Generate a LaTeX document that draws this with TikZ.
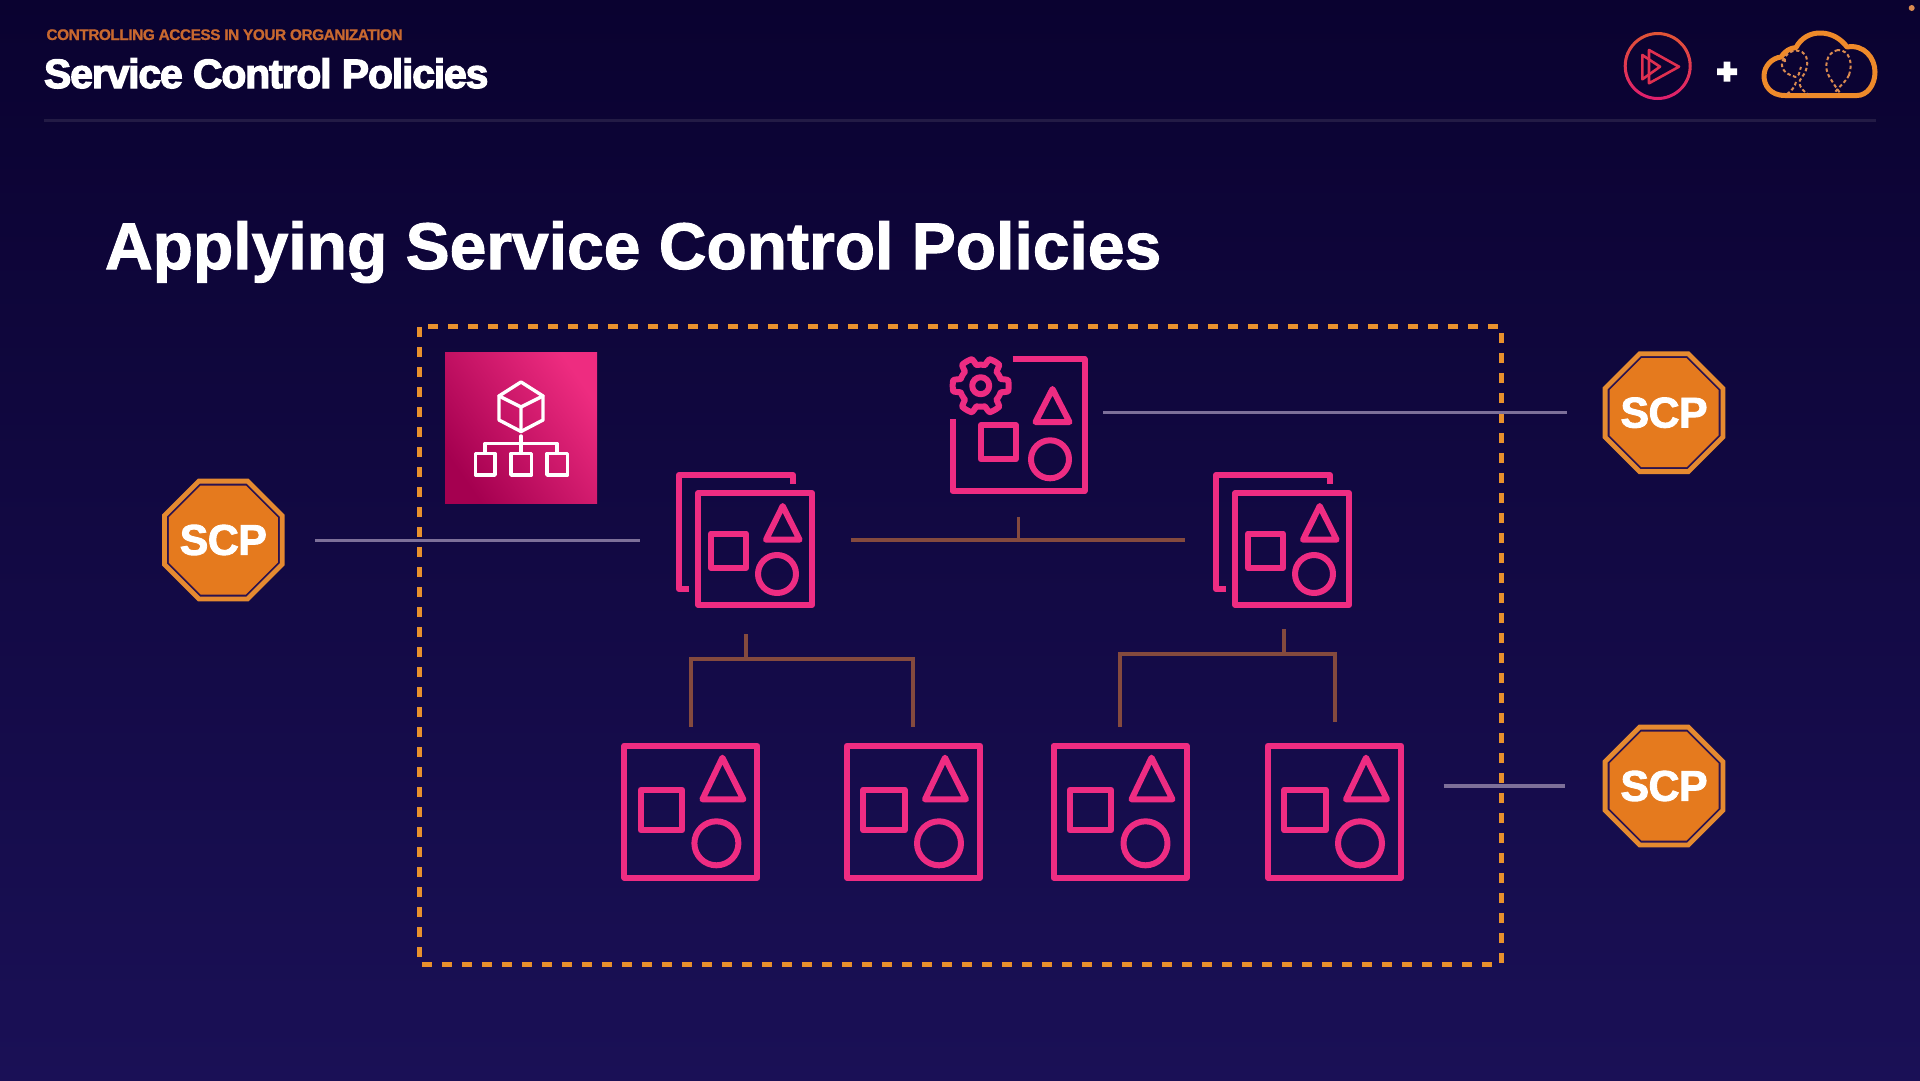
\documentclass[tikz,border=0pt]{standalone}
\usepackage{fontspec}
\setmainfont{Liberation Sans}
\newfontfamily\tightfont{Liberation Sans}[LetterSpace=-2.9,BoldFeatures={FakeBold=3}]
\newfontfamily\kickerfont{Liberation Sans}[LetterSpace=-3,BoldFeatures={FakeBold=1}]
\newfontfamily\headfont{Liberation Sans}[BoldFeatures={FakeBold=1.5}]
\newfontfamily\scpfont{Liberation Sans}[LetterSpace=-1.5,BoldFeatures={FakeBold=2}]
\usetikzlibrary{shapes.geometric}
\definecolor{bgtop}{HTML}{0A0230}
\definecolor{bgmid}{HTML}{130A42}
\definecolor{bgbot}{HTML}{1A1056}
\definecolor{pinkicon}{HTML}{EE2C82}
\definecolor{dashorange}{HTML}{E8912D}
\definecolor{greyline}{HTML}{7D7099}
\definecolor{brownline}{HTML}{844A3E}
\definecolor{scpfillc}{HTML}{E57A1E}
\definecolor{scpring}{HTML}{E58A30}
\definecolor{kicker}{HTML}{C8682F}
\definecolor{cloudc}{HTML}{EE8A2A}
\definecolor{balloon}{HTML}{D98A50}
\definecolor{darkgap}{HTML}{2A1250}
\tikzset{
  x=1pt,y=-1pt,
  iconline/.style={draw=pinkicon,line width=6pt,line join=round,fill=none},
  whiteline/.style={draw=white,line width=3.4pt,line join=round,line cap=round},
  greyconn/.style={draw=greyline,line width=3.2pt},
  brownconn/.style={draw=brownline,line width=3.8pt},
  scpouter/.style={regular polygon,regular polygon sides=8,minimum size=127.5pt,inner sep=0pt,outer sep=0pt,draw=scpring,line width=4.8pt,fill=darkgap},
  scpinner/.style={regular polygon,regular polygon sides=8,minimum size=118pt,inner sep=0pt,outer sep=0pt,fill=scpfillc},
  scplabel/.style={text=white,inner sep=0pt,outer sep=0pt,font=\scpfont\fontsize{43}{43}\selectfont\bfseries},
  flat/.style={anchor=base west,inner sep=0pt,outer sep=0pt},
  leaficon/.pic={
    \draw[iconline] (3,3) rectangle (136,135);
    \draw[iconline] (19.4,47) rectangle (60.6,87.6);
    \draw[iconline] (101,15) -- (81,56.6) -- (122,56.6) -- cycle;
    \draw[iconline] (95,100.6) circle [radius=22pt];
  },
  stackicon/.pic={
    \draw[iconline] (13,117) -- (3,117) -- (3,3) -- (117,3) -- (117,12);
    \draw[iconline] (22.4,21) rectangle (136,133);
    \draw[iconline] (35,61.5) rectangle (70,96);
    \draw[iconline] (106.7,34) -- (90,67.7) -- (123.6,67.7) -- cycle;
    \draw[iconline] (101,102) circle [radius=19pt];
  },
  mgmticon/.pic={
    \draw[iconline] (63,3) -- (135,3) -- (135,135) -- (3,135) -- (3,63);
    \draw[iconline] (31.5,69) rectangle (66.2,103.3);
    \draw[iconline] (103,33) -- (86,66) -- (120,66) -- cycle;
    \draw[iconline] (100.5,103.3) circle [radius=19pt];
    \draw[iconline] (31.2,29.7) circle [radius=8.5pt];
    \draw[iconline] plot[domain=0:360,samples=181,variable=\t]
      ({31.2+(24.5+3.5*max(-1,min(1,3*cos(6*\t))))*cos(\t)},{29.7+(24.5+3.5*max(-1,min(1,3*cos(6*\t))))*sin(\t)}) -- cycle;
  },
}
\begin{document}
\begin{tikzpicture}
\useasboundingbox (0,0) rectangle (1920,1080);
% background
\shade[top color=bgtop,middle color=bgmid,bottom color=bgbot] (0,0) rectangle (1920,1080);
% header
\node[flat,text=kicker,font=\kickerfont\fontsize{15.4}{16}\selectfont\bfseries] (kickertext) at (46.5,40) {CONTROLLING ACCESS IN YOUR ORGANIZATION};
\node[flat,text=white,font=\tightfont\fontsize{41}{42}\selectfont\bfseries] (headertitle) at (44,88) {Service Control Policies};
\coordinate (ruleL) at (44,120.5);
\coordinate (ruleR) at (1876,120.5);
\draw[draw=white!10!bgtop,line width=3pt] (ruleL) -- (ruleR);
\fill[balloon] (1911.7,8) circle [radius=3pt];
% Pluralsight logo
\foreach \a in {0,6,...,354}{
  \pgfmathtruncatemacro{\gv}{32+26*(sin(\a+3)+1)}
  \pgfmathtruncatemacro{\bv}{110-28*(sin(\a+3)+1)}
  \definecolor{ringc}{RGB}{224,\gv,\bv}
  \draw[draw=ringc,line width=3pt,line cap=round]
    ({1657.7+32.5*cos(\a)},{66-32.5*sin(\a)}) -- ({1657.7+32.5*cos(\a+6)},{66-32.5*sin(\a+6)});
}
\draw[draw={rgb,255:red,224;green,48;blue,80},line width=2.6pt,line join=round] (1649,50) -- (1679,66.7) -- (1649,83.3) -- cycle;
\draw[draw={rgb,255:red,224;green,48;blue,80},line width=2.6pt,line join=round] (1642.3,55) -- (1660,66.7) -- (1642.3,79.3) -- cycle;
% plus
\fill[white] (1717,68.4) rectangle (1737,75) (1723.7,61.7) rectangle (1730.3,81.7);
% cloud
\draw[draw=cloudc,line width=5pt,line join=round]
  (1785,95.5) .. controls (1770,95.5) and (1764,85) .. (1764,76)
  .. controls (1764,66) and (1772,58) .. (1781,57)
  .. controls (1785,51) and (1790,48) .. (1796,47.5)
  .. controls (1801,38) and (1810,33) .. (1820,33)
  .. controls (1832,33) and (1841,39) .. (1847,47)
  .. controls (1864,44) and (1875,58) .. (1875,72)
  .. controls (1875,85) and (1867,95.5) .. (1857,95.5) -- cycle;
\draw[draw=balloon,line width=2pt,dash pattern=on 3.5pt off 2.5pt]
  (1785,62) .. controls (1783,53) and (1795,48) .. (1802,52)
  .. controls (1810,57) and (1808,70) .. (1802,77)
  .. controls (1798,81) and (1798,88) .. (1809,95);
\draw[draw=balloon,line width=2pt,dash pattern=on 3.5pt off 2.5pt]
  (1784,58) .. controls (1778,68) and (1786,74) .. (1793,76)
  .. controls (1800,80) and (1799,70) .. (1801,67)
  (1796,82) .. controls (1795,86) and (1792,91) .. (1787,94);
\draw[draw=balloon,line width=2pt,dash pattern=on 3.5pt off 2.5pt]
  (1838,50) .. controls (1826,52) and (1823,68) .. (1830,78)
  .. controls (1834,84) and (1836,88) .. (1841,94)
  (1849,75) .. controls (1846,82) and (1838,87) .. (1834,94)
  (1849,75) .. controls (1853,64) and (1850,50) .. (1838,50);
% main heading
\node[flat,text=white,font=\headfont\fontsize{66}{67}\selectfont\bfseries] (mainheading) at (105,269) {Applying Service Control Policies};
% organisation boundary
\coordinate (orgTL) at (419.3,326.5);
\coordinate (orgBR) at (1501,964);
\draw[draw=dashorange,line width=5pt,dash pattern=on 10pt off 10pt] (orgTL) rectangle (orgBR);
% organisations icon
\node[minimum width=152.2pt,minimum height=151.7pt,inner sep=0pt,outer sep=0pt,anchor=north west,shade,left color={rgb,255:red,165;green,0;blue,80},right color={rgb,255:red,238;green,44;blue,128},shading angle=125] (orgicon) at (445,352) {};
\draw[whiteline] (521,382) -- (543,396) -- (543,420) -- (521,431.5) -- (499,420) -- (499,396) -- cycle;
\draw[whiteline] (499,396) -- (521,407) -- (543,396) (521,407) -- (521,431.5);
\draw[whiteline] (521,436) -- (521,453) (485,453) -- (485,443.5) -- (557,443.5) -- (557,453);
\draw[whiteline] (475.5,453.5) rectangle (495,475);
\draw[whiteline] (511,453.5) rectangle (531.5,475);
\draw[whiteline] (547,453.5) rectangle (567.5,475);
% accounts
\pic (mgmt) at (949.5,356) {mgmticon};
\pic (stackL) at (676,472) {stackicon};
\pic (stackR) at (1213,472) {stackicon};
\pic (leafA) at (621.4,742.7) {leaficon};
\pic (leafB) at (844,742.7) {leaficon};
\pic (leafC) at (1050.5,742.7) {leaficon};
\pic (leafD) at (1265,742.7) {leaficon};
% SCP badges
\node[scpouter] (scpLring) at (223.3,540) {};
\node[scpinner] (scpLbody) at (223.3,540) {};
\node[scplabel] (scpL) at (223.3,540) {SCP};
\node[scpouter] (scpTring) at (1664,412.7) {};
\node[scpinner] (scpTbody) at (1664,412.7) {};
\node[scplabel] (scpT) at (1664,412.7) {SCP};
\node[scpouter] (scpBring) at (1664,786) {};
\node[scpinner] (scpBbody) at (1664,786) {};
\node[scplabel] (scpB) at (1664,786) {SCP};
% connector ends
\coordinate (lineLa) at (315,540.3);
\coordinate (lineLb) at (639.6,540.3);
\coordinate (lineTa) at (1103,412.7);
\coordinate (lineTb) at (1567,412.7);
\coordinate (lineBa) at (1443.7,786);
\coordinate (lineBb) at (1565,786);
\draw[greyconn] (lineLa) -- (lineLb);
\draw[greyconn] (lineTa) -- (lineTb);
\draw[greyconn] (lineBa) -- (lineBb);
% tree top
\coordinate (topA) at (850.8,540);
\coordinate (topB) at (1185,540);
\coordinate (topTick) at (1018.7,516.7);
\coordinate (topJoin) at (1018.7,541.8);
\draw[brownconn] (topA) -- (topB);
\draw[brownconn,line width=3pt] (topTick) -- (topJoin);
% tree left
\coordinate (t1tick) at (746,634);
\coordinate (t1join) at (746,659);
\coordinate (t1a) at (690.8,726.7);
\coordinate (t1b) at (912.8,726.7);
\coordinate (t1ac) at (690.8,658.7);
\coordinate (t1bc) at (912.8,658.7);
\draw[brownconn] (t1a) -- (t1ac) -- (t1bc) -- (t1b);
\draw[brownconn] (t1tick) -- (t1join);
% tree right
\coordinate (t2tick) at (1283.7,629.3);
\coordinate (t2join) at (1283.7,654);
\coordinate (t2a) at (1120,726.7);
\coordinate (t2b) at (1335,721.7);
\coordinate (t2ac) at (1120,653.7);
\coordinate (t2bc) at (1335,653.7);
\draw[brownconn] (t2a) -- (t2ac) -- (t2bc) -- (t2b);
\draw[brownconn] (t2tick) -- (t2join);
\end{tikzpicture}
\end{document}
